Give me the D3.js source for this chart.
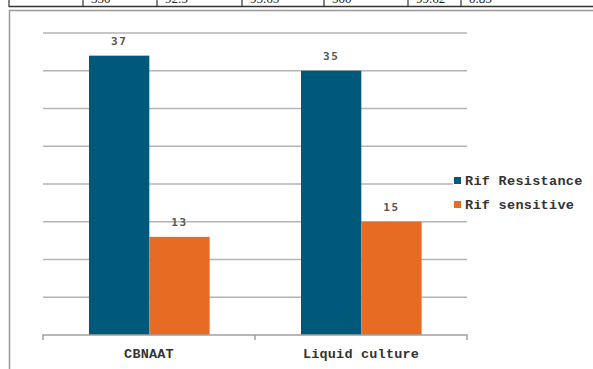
<!DOCTYPE html>
<html>
<head>
<meta charset="utf-8">
<script src="https://cdn.jsdelivr.net/npm/d3@7"></script>
<style>
  html, body { margin: 0; padding: 0; background: #fff; }
  svg { display: block; }
  .mono { font-family: 'Liberation Mono', 'Courier New', Cousine, monospace; }
</style>
</head>
<body>
<svg id="chart" width="593" height="369"></svg>
<script>
// Test results by method
const categories = ["CBNAAT", "Liquid culture"];
const seriesNames = ["Rif Resistance", "Rif sensitive"];
const resistance = [37, 35];
const sensitive = [13, 15];
const seriesColors = ["#00587a", "#e86b24"];
const yTicks = [0, 5, 10, 15, 20, 25, 30, 35, 40];

// Trailing row of the preceding table
const tableRow = ["", "330", "92.5", "95.65", "300", "99.62", "0.85"];
const tableCols = [9, 83, 157, 242, 324, 408, 461, 620];

const svg = d3.select("#chart");

// table row fragment
const tg = svg.append("g");
tableRow.forEach((t, i) => {
  tg.append("text")
    .attr("x", tableCols[i] + 8)
    .attr("y", 3)
    .attr("font-family", "Liberation Serif")
    .attr("font-size", 13)
    .attr("fill", "#222")
    .text(t);
});
tg.append("line").attr("x1", 9).attr("x2", 593).attr("y1", 6.5).attr("y2", 6.5)
  .attr("stroke", "#333").attr("stroke-width", 1.5);
tableCols.slice(0, 7).forEach(x => {
  tg.append("line").attr("x1", x).attr("x2", x).attr("y1", 0).attr("y2", 7)
    .attr("stroke", "#333").attr("stroke-width", 1.2);
});

// chart frame
svg.append("path")
  .attr("d", "M9.5,369 V10.5 H593")
  .attr("fill", "none")
  .attr("stroke", "#999")
  .attr("stroke-width", 1.5);

const plot = { left: 43, right: 467, top: 33, bottom: 335 };

const y = d3.scaleLinear().domain([0, 40]).range([plot.bottom, plot.top]);
const x0 = d3.scaleBand().domain(categories).range([plot.left, plot.right]).padding(0);
const bw = x0.bandwidth();
const x1 = d3.scaleBand().domain(seriesNames).range([bw * 0.217, bw * 0.786]).padding(0);

// gridlines
svg.append("g")
  .selectAll("line")
  .data(yTicks.filter(d => d > 0))
  .join("line")
  .attr("x1", plot.left).attr("x2", plot.right)
  .attr("y1", d => y(d)).attr("y2", d => y(d))
  .attr("stroke", "#b4b4b4")
  .attr("stroke-width", 1.3);

// bars
const rows = categories.map((c, i) => ({ cat: c, vals: [resistance[i], sensitive[i]] }));
const groups = svg.append("g").selectAll("g")
  .data(rows)
  .join("g")
  .attr("transform", d => `translate(${x0(d.cat)},0)`);

groups.selectAll("rect")
  .data(d => d.vals.map((v, j) => ({ s: seriesNames[j], v, j })))
  .join("rect")
  .attr("x", d => x1(d.s))
  .attr("width", x1.bandwidth())
  .attr("y", d => y(d.v))
  .attr("height", d => y(0) - y(d.v))
  .attr("fill", d => seriesColors[d.j]);

groups.selectAll("text.val")
  .data(d => d.vals.map((v, j) => ({ s: seriesNames[j], v, j })))
  .join("text")
  .attr("class", "val")
  .attr("x", d => x1(d.s) + x1.bandwidth() / 2)
  .attr("y", d => y(d.v) - 11)
  .attr("text-anchor", "middle")
  .attr("font-family", "DejaVu Sans Mono")
  .attr("font-size", 11)
  .attr("font-weight", "bold")
  .attr("letter-spacing", 1.5)
  .attr("fill", "#555")
  .text(d => d.v);

// x axis
const xAxis = svg.append("g")
  .attr("transform", `translate(0,${plot.bottom})`)
  .call(d3.axisBottom(x0).tickSize(0).tickPadding(13));
xAxis.select(".domain").attr("stroke", "#a0a0a0").attr("stroke-width", 1.5)
  .attr("d", `M${plot.left},5V0H${plot.right}V5`);
xAxis.selectAll("text")
  .attr("class", "mono")
  .attr("font-family", null)
  .attr("font-size", 13.5)
  .attr("font-weight", "bold")
  .attr("letter-spacing", 0.2)
  .attr("fill", "#333");
xAxis.attr("font-family", null);
xAxis.append("line")
  .attr("x1", x0(categories[1])).attr("x2", x0(categories[1]))
  .attr("y1", 0).attr("y2", 5)
  .attr("stroke", "#a0a0a0").attr("stroke-width", 1.5);

// legend
const legend = svg.append("g").attr("transform", "translate(454,177)");
legend.append("rect").attr("x", -1).attr("y", -3).attr("width", 14).attr("height", 34).attr("fill", "#fff");
const li = legend.selectAll("g")
  .data(seriesNames)
  .join("g")
  .attr("transform", (d, i) => `translate(0,${i * 24})`);
li.append("rect")
  .attr("width", 7).attr("height", 7)
  .attr("fill", (d, i) => seriesColors[i]);
li.append("text")
  .attr("class", "mono")
  .attr("x", 11).attr("y", 7.5)
  .attr("font-size", 13.5)
  .attr("font-weight", "bold")
  .attr("letter-spacing", 0.3)
  .attr("fill", "#333")
  .text(d => d);
</script>
</body>
</html>
